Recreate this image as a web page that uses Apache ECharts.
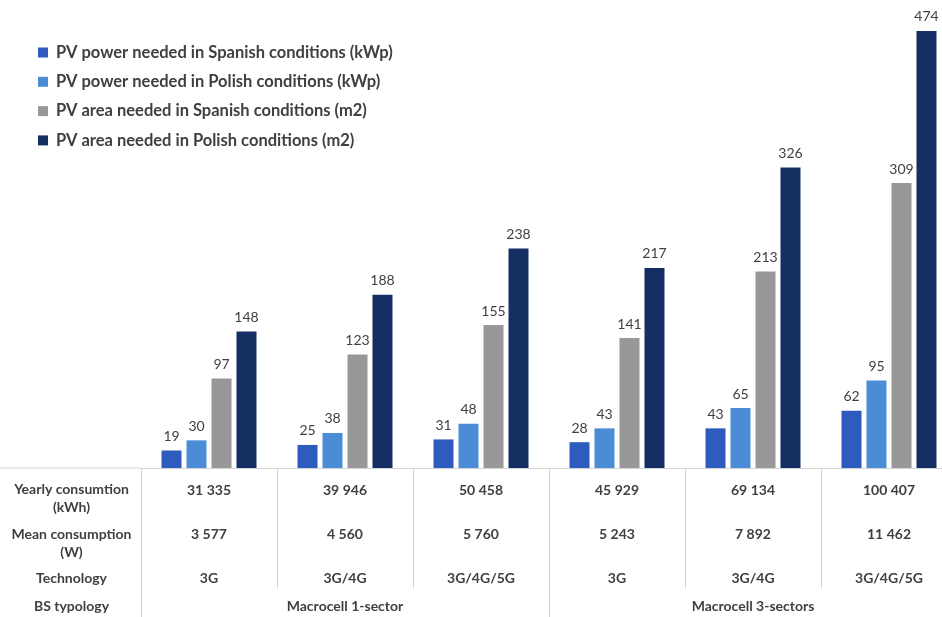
<!DOCTYPE html>
<html><head><meta charset="utf-8">
<script src="https://cdn.jsdelivr.net/npm/echarts@6/dist/echarts.min.js"></script>
<style>html,body{margin:0;padding:0;background:#fff}#c{width:942px;height:617px}</style>
</head><body><div id="c"></div>
<script>
const categories = ['C1','C2','C3','C4','C5','C6'];
const seriesNames = [
  'PV power needed in Spanish conditions (kWp)',
  'PV power needed in Polish conditions (kWp)',
  'PV area needed in Spanish conditions (m2)',
  'PV area needed in Polish conditions (m2)'
];
const powerSpain = [19, 25, 31, 28, 43, 62];
const powerPoland = [30, 38, 48, 43, 65, 95];
const areaSpain = [97, 123, 155, 141, 213, 309];
const areaPoland = [148, 188, 238, 217, 326, 474];
const yearly = ['31 335', '39 946', '50 458', '45 929', '69 134', '100 407'];
const mean = ['3 577', '4 560', '5 760', '5 243', '7 892', '11 462'];
const technology = ['3G', '3G/4G', '3G/4G/5G', '3G', '3G/4G', '3G/4G/5G'];
const typology = ['Macrocell 1-sector', 'Macrocell 3-sectors'];
const rowHeaders = ['Yearly consumtion\n(kWh)', 'Mean consumption\n(W)', 'Technology', 'BS typology'];
const colors = ['#2F5BBE', '#4A8DD6', '#989898', '#152F62'];

const FONT = 'Lato, "Open Sans", sans-serif';
const TXT = '#404040';
const LINE = '#d4d4d4';
const chart = echarts.init(document.getElementById('c'));
const vals = [powerSpain, powerPoland, areaSpain, areaPoland];

chart.setOption({
  animation: false,
  textStyle: {fontFamily: FONT},
  grid: {left: 141, right: -15, top: 7, bottom: 149, containLabel: false, outerBoundsMode: 'none'},
  legend: {
    orient: 'vertical', left: 38, top: 43, padding: 0,
    itemWidth: 10, itemHeight: 10, itemGap: 10.3, icon: 'rect',
    textStyle: {fontFamily: FONT, fontSize: 16.5, fontWeight: 'bold', color: TXT, lineHeight: 19, padding: [0,0,0,3]},
    data: seriesNames
  },
  xAxis: [{
    type: 'category', data: categories, position: 'bottom',
    axisLine: {show: true, lineStyle: {color: LINE, width: 1}},
    axisTick: {show: true, length: 120, lineStyle: {color: LINE, width: 1}},
    axisLabel: {
      margin: 0, interval: 0,
      formatter: function (v, i) {
        return '{a|' + yearly[i] + '}\n{a|' + mean[i] + '}\n{a|' + technology[i] + '}';
      },
      rich: {a: {fontFamily: FONT, fontSize: 14, fontWeight: 'bold', color: TXT, lineHeight: 44}}
    }
  }, {
    type: 'category', data: typology, position: 'bottom',
    axisLine: {show: false},
    axisTick: {show: true, length: 149, lineStyle: {color: LINE, width: 1}},
    axisLabel: {margin: 131, interval: 0, fontFamily: FONT, fontSize: 14, fontWeight: 'bold', color: TXT, lineHeight: 15}
  }],
  yAxis: {type: 'value', min: 0, max: 500, show: false, splitLine: {show: false}},
  series: seriesNames.map((n, k) => ({
    name: n, type: 'bar', data: vals[k], barWidth: 20, barGap: '25%',
    itemStyle: {color: colors[k]},
    label: {show: true, position: 'top', distance: 7, fontFamily: FONT, fontSize: 14, color: TXT}
  }))
});

const base = chart.convertToPixel({yAxisIndex: 0}, 0);
const gridLeft = 141;
const headerX = gridLeft / 2 + 1;
const rowY = [base + 12, base + 57, base + 101, base + 129];
chart.setOption({
  graphic: [
    {type: 'line', shape: {x1: 0, y1: base, x2: gridLeft, y2: base}, style: {stroke: LINE, lineWidth: 1}}
  ].concat(rowHeaders.map((t, i) => ({
    type: 'text', x: headerX, y: rowY[i],
    style: {text: t, fontFamily: FONT, fontSize: 14, fontWeight: 'bold', fill: TXT, align: 'center', verticalAlign: 'top', lineHeight: 18}
  })))
});
</script></body></html>
